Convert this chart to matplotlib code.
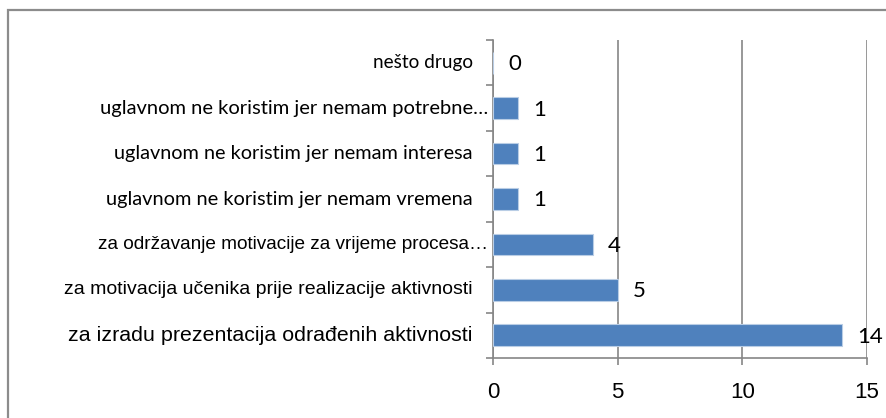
import matplotlib
matplotlib.use('Agg')
import matplotlib.pyplot as plt
import matplotlib.transforms as mtransforms
from matplotlib.patches import Rectangle

# podaci (odozdo prema gore)
kategorije = [
    'za izradu prezentacija odrađenih aktivnosti',
    'za motivacija učenika prije realizacije aktivnosti',
    'za održavanje motivacije za vrijeme procesa…',
    'uglavnom ne koristim jer nemam vremena',
    'uglavnom ne koristim jer nemam interesa',
    'uglavnom ne koristim jer nemam potrebne…',
    'nešto drugo',
]
vrijednosti = [14, 5, 4, 1, 1, 1, 0]
x_ticks = [0, 5, 10, 15]

# font za svaku oznaku kategorije (kao u originalu, mješavina)
label_fonts = ['Liberation Sans', 'Liberation Sans', 'Liberation Sans',
               'Lato', 'Lato', 'Lato', 'Lato']
label_sizes = [15.4, 14.0, 13.7, 14.4, 14.3, 14.5, 13.7]

siva = '#868686'
plava = '#4F81BD'

fig = plt.figure(figsize=(8.87, 4.18), dpi=100)
ax = fig.add_axes([493 / 887, 1 - 358 / 418, (867 - 493) / 887, (358 - 40) / 418])

pos = list(range(len(kategorije)))
ax.barh(pos, vrijednosti, height=0.48, color=plava, edgecolor='#b9cde5', linewidth=0.8, zorder=3)

for y, v in zip(pos, vrijednosti):
    ax.annotate(str(v), (v, y), xytext=(11, -1), textcoords='offset points',
                ha='left', va='center', fontsize=16, family='Lato', color='black', zorder=4)

ax.set_xlim(0, 15)
ax.set_ylim(-0.5, len(kategorije) - 0.5)
ax.set_xticks(x_ticks)
ax.set_xticklabels([str(t) for t in x_ticks], family='Liberation Sans', fontsize=16)
ax.set_yticks(pos)
ax.set_yticklabels([])
ax.set_yticks([p - 0.5 for p in pos] + [len(pos) - 0.5], minor=True)

# oznake kategorija - skraćene (…) završavaju malo desnije
trans = ax.get_yaxis_transform()
for y, txt, fam, fs in zip(pos, kategorije, label_fonts, label_sizes):
    dx = -5 if txt.endswith('…') else -20
    t = trans + mtransforms.ScaledTranslation(dx / 100, 0, fig.dpi_scale_trans)
    ax.text(0, y, txt, transform=t, ha='right', va='center', family=fam, fontsize=fs)

ax.tick_params(axis='y', which='major', length=0)
ax.tick_params(axis='y', which='minor', length=5, color=siva, width=1.2)
ax.tick_params(axis='x', length=5, color=siva, width=1.2, pad=12)

for s in ['top', 'right']:
    ax.spines[s].set_visible(False)
for s in ['left', 'bottom']:
    ax.spines[s].set_color(siva)
    ax.spines[s].set_linewidth(1.2)

ax.xaxis.grid(True, color=siva, linewidth=1.2, zorder=0)
ax.set_axisbelow(True)

# okvir grafikona
fig.patches.append(Rectangle((8 / 887, -0.2), 1.2, 1.2 - 10 / 418, transform=fig.transFigure,
                             fill=False, edgecolor='#8c8c8c', linewidth=1.6, clip_on=False))

fig.savefig('out.png', dpi=100)
